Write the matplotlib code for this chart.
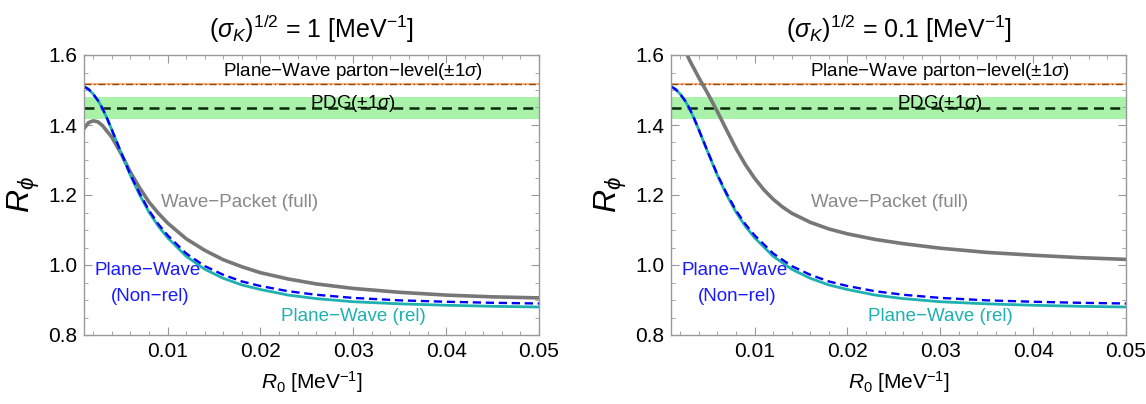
import numpy as np
import matplotlib.pyplot as plt
from matplotlib.ticker import MultipleLocator

plt.rcParams['font.family'] = ['Liberation Sans', 'DejaVu Sans']
plt.rcParams['mathtext.fontset'] = 'custom'
plt.rcParams['mathtext.rm'] = 'Liberation Sans'
plt.rcParams['mathtext.it'] = 'Liberation Sans:italic'

# plane-wave curves (same in both panels)
x_pw = [0.001, 0.0015, 0.002, 0.0025, 0.003, 0.0035, 0.004, 0.005, 0.006, 0.007,
        0.008, 0.009, 0.010, 0.012, 0.014, 0.016, 0.018, 0.020, 0.023, 0.026,
        0.030, 0.035, 0.040, 0.045, 0.050]
r_rel = [1.510, 1.502, 1.488, 1.470, 1.447, 1.418, 1.386, 1.320, 1.256, 1.200,
         1.151, 1.111, 1.078, 1.025, 0.988, 0.962, 0.943, 0.930, 0.914, 0.904,
         0.895, 0.889, 0.885, 0.882, 0.880]
r_nonrel = [1.510, 1.502, 1.488, 1.470, 1.447, 1.418, 1.386, 1.321, 1.258, 1.204,
            1.156, 1.117, 1.085, 1.033, 0.997, 0.972, 0.953, 0.940, 0.925, 0.915,
            0.906, 0.899, 0.895, 0.892, 0.890]

# wave-packet curves
x_wp1 = [0.001, 0.0015, 0.002, 0.0025, 0.003, 0.004, 0.005, 0.006, 0.007, 0.008,
         0.009, 0.010, 0.012, 0.014, 0.016, 0.018, 0.020, 0.023, 0.026, 0.030,
         0.035, 0.040, 0.045, 0.050]
r_wp1 = [1.390, 1.407, 1.412, 1.409, 1.398, 1.365, 1.318, 1.265, 1.220, 1.180,
         1.148, 1.120, 1.075, 1.042, 1.015, 0.995, 0.978, 0.960, 0.946, 0.933,
         0.922, 0.914, 0.909, 0.906]
x_wp2 = [0.0025, 0.003, 0.004, 0.005, 0.006, 0.007, 0.008, 0.009, 0.010, 0.011,
         0.012, 0.013, 0.014, 0.016, 0.018, 0.020, 0.023, 0.026, 0.030, 0.035,
         0.040, 0.045, 0.050]
r_wp2 = [1.615, 1.585, 1.535, 1.488, 1.438, 1.385, 1.333, 1.287, 1.248, 1.215,
         1.188, 1.166, 1.148, 1.122, 1.103, 1.089, 1.073, 1.061, 1.048, 1.036,
         1.028, 1.021, 1.016]

parton_val, parton_err = 1.516, 0.003
pdg_val, pdg_err = 1.448, 0.031

titles = [r'$(\sigma_K)^{1/2}$ = 1 [MeV$^{-1}$]', r'$(\sigma_K)^{1/2}$ = 0.1 [MeV$^{-1}$]']
wp_curves = [(x_wp1, r_wp1), (x_wp2, r_wp2)]
wp_label_x = [0.0178, 0.0245]

fig = plt.figure(figsize=(11.46, 4.04), dpi=100)
lefts = [84 / 1146, 671 / 1146]
frame_col = '#999999'

for i in range(2):
    ax = fig.add_axes([lefts[i], 69 / 404, 455 / 1146, 280 / 404])
    ax.axhspan(pdg_val - pdg_err, pdg_val + pdg_err, color='#aaf2aa', lw=0)
    ax.axhline(pdg_val, color='#0a2a0a', ls=(0, (4, 2.5)), lw=1.8)
    ax.axhspan(parton_val - parton_err, parton_val + parton_err, color='#ffb27a', lw=0)
    ax.axhline(parton_val, color='#8a4a10', ls=(0, (5, 2, 1, 2)), lw=1.0)

    ax.plot(wp_curves[i][0], wp_curves[i][1], color='#777777', lw=2.6)
    ax.plot(x_pw, r_rel, color='#1fb0b0', lw=2.0)
    ax.plot(x_pw, r_nonrel, color='#0000ff', lw=1.7, ls=(0, (3.5, 2)))

    ax.text(0.030, 1.552, 'Plane\u2212Wave parton\u2212level(\u00b11$\\sigma$)',
            ha='center', va='center', fontsize=13.5)
    ax.text(0.030, 1.462, 'PDG(\u00b11$\\sigma$)', ha='center', va='center', fontsize=13.5)
    ax.text(wp_label_x[i], 1.179, 'Wave\u2212Packet (full)', color='#888888',
            ha='center', va='center', fontsize=13.5)
    ax.text(0.0079, 0.983, 'Plane\u2212Wave', color='#1a1aff', ha='center', va='center', fontsize=13.5)
    ax.text(0.0081, 0.910, '(Non\u2212rel)', color='#1a1aff', ha='center', va='center', fontsize=13.5)
    ax.text(0.030, 0.853, 'Plane\u2212Wave (rel)', color='#1fb0b0', ha='center', va='center', fontsize=13.5)

    ax.set_xlim(0.001, 0.05)
    ax.set_ylim(0.8, 1.6)
    ax.xaxis.set_minor_locator(MultipleLocator(0.002))
    ax.yaxis.set_minor_locator(MultipleLocator(0.05))
    ax.set_xticks([0.01, 0.02, 0.03, 0.04, 0.05])
    ax.set_xticklabels(['0.01', '0.02', '0.03', '0.04', '0.05'])
    ax.set_yticks([0.8, 1.0, 1.2, 1.4, 1.6])
    ax.set_yticklabels(['0.8', '1.0', '1.2', '1.4', '1.6'])
    ax.tick_params(which='both', direction='in', top=True, right=True, color=frame_col,
                   labelsize=15)
    ax.tick_params(axis='x', pad=5)
    ax.tick_params(axis='y', pad=5)
    ax.tick_params(which='major', length=6)
    ax.tick_params(which='minor', length=3)
    for s in ax.spines.values():
        s.set_color(frame_col)
        s.set_linewidth(1.0)

    ax.set_title(titles[i], fontsize=18, pad=12)
    ax.set_xlabel(r'$R_0$ [MeV$^{-1}$]', fontsize=15, labelpad=6)
    ax.set_ylabel(r'$R_\phi$', fontsize=23, labelpad=4)

plt.savefig('out.png', dpi=100)
